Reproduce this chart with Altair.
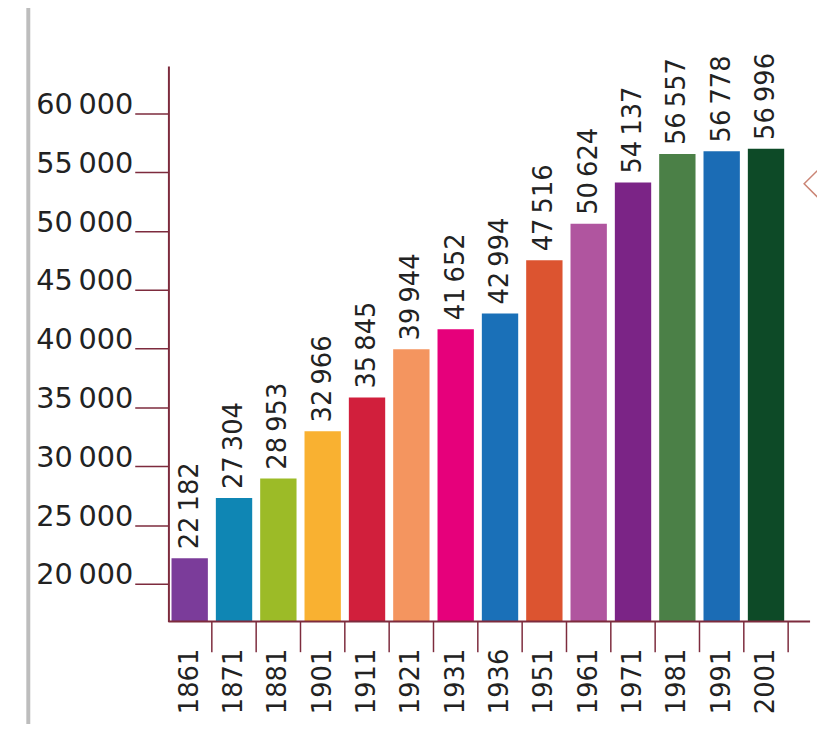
import altair as alt
import pandas as pd

years = ["1861", "1871", "1881", "1901", "1911", "1921", "1931", "1936",
         "1951", "1961", "1971", "1981", "1991", "2001"]
values = [22182, 27304, 28953, 32966, 35845, 39944, 41652, 42994,
          47516, 50624, 54137, 56557, 56778, 56996]
colors = ["#7b3c9a", "#0f86b4", "#9cbb27", "#f9b131", "#d11f3c", "#f4955f",
          "#e6007b", "#1a70b8", "#dc5430", "#b0559f", "#7b2486", "#4b8047",
          "#1b6cb5", "#0d4a27"]
y_ticks = [20000, 25000, 30000, 35000, 40000, 45000, 50000, 55000, 60000]

THIN = "\u2009"
df = pd.DataFrame({
    "year": years,
    "value": values,
    "color": colors,
    "label": [f"{v:,}".replace(",", THIN) for v in values],
})

PW, PH = 648, 561
MAROON = "#7d2b3d"
FONT = "DejaVu Sans"
TXT = "#222222"

xscale = alt.Scale(domain=years, range=[0, 625], paddingInner=0.18, paddingOuter=0.07)
yscale = alt.Scale(domain=[16800, 64040], nice=False, zero=False)

x_axis = alt.Axis(title=None, labelAngle=270, labelFontSize=26, labelFont=FONT,
                  labelColor=TXT, labelPadding=27, ticks=False, domain=False, grid=False)
y_axis = alt.Axis(title=None, values=y_ticks,
                  labelExpr="replace(format(datum.value, ','), ',', '" + THIN + "')",
                  labelFontSize=29, labelFont=FONT, labelColor=TXT,
                  labelBaseline="alphabetic", labelPadding=2,
                  tickSize=34, tickColor=MAROON, tickWidth=1.5,
                  domainColor=MAROON, domainWidth=2, grid=False)

X = alt.X("year:N", scale=xscale, sort=years, axis=x_axis)
Y = alt.Y("value:Q", scale=yscale, axis=y_axis)

bars = alt.Chart(df).mark_bar(clip=True).encode(
    x=X, y=Y, color=alt.Color("color:N", scale=None)
)

labels = alt.Chart(df).mark_text(
    angle=270, align="left", baseline="middle", dx=9,
    fontSize=26, font=FONT, color=TXT
).encode(x=X, y=Y, text="label:N")

xticks = alt.Chart(df).mark_rule(color=MAROON, strokeWidth=1.5, xOffset=4).encode(
    x=alt.X("year:N", scale=xscale, sort=years, bandPosition=1, axis=x_axis),
    y=alt.value(PH), y2=alt.value(PH + 31)
)

deco = pd.DataFrame({"a": [0]})
xline = alt.Chart(deco).mark_rule(color=MAROON, strokeWidth=2).encode(
    x=alt.value(0), x2=alt.value(PW), y=alt.value(PH)
)
gray = alt.Chart(deco).mark_rule(color="#bdbdbd", strokeWidth=4).encode(
    x=alt.value(-141.5), y=alt.value(-60), y2=alt.value(PH + 120)
)
diamond = alt.Chart(deco).mark_point(
    shape="diamond", filled=False, stroke="#b5523b", strokeWidth=1.5, size=900
).encode(x=alt.value(657), y=alt.value(119))

chart = alt.layer(gray, bars, labels, xticks, xline, diamond).properties(
    width=PW, height=PH,
    autosize=alt.AutoSizeParams(type="none"),
    padding={"left": 162, "top": 55, "right": 7, "bottom": 100},
    background="white",
).configure_view(stroke=None)

chart.save("out.html", embed_options={"renderer": "svg", "actions": False})
